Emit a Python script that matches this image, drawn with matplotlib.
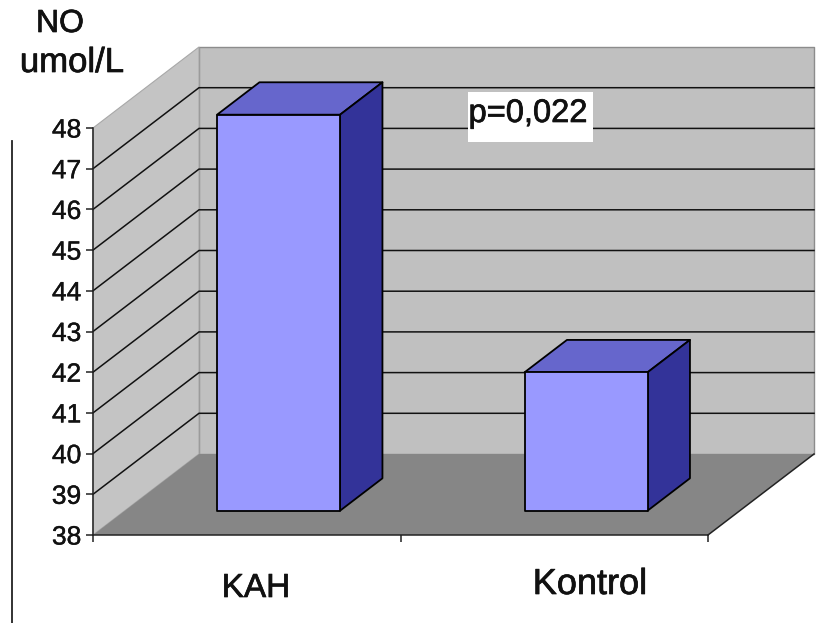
import matplotlib
matplotlib.use("Agg")
import matplotlib.pyplot as plt
import matplotlib.patheffects as pe
from matplotlib.patches import Polygon, Rectangle

categories = ["KAH", "Kontrol"]
values = [47.73, 41.4]
y_ticks = list(range(38, 49))
note = "p=0,022"
unit_label = "NO\numol/L"

W, H = 827, 623
plt.rcParams['font.family'] = ['Liberation Sans', 'DejaVu Sans']

fig = plt.figure(figsize=(W / 100, H / 100), dpi=100)
# front plane of the 3d box, in pixels of the reference
left, right, top, bottom = 93, 708, 128, 535
ax = fig.add_axes([left / W, 1 - bottom / H, (right - left) / W, (bottom - top) / H])
ax.set_xlim(0, 2)
ax.set_ylim(38, 48)
ax.patch.set_alpha(0)

# depth of the box expressed in data units
DX = 106 / ((right - left) / 2)
DY = 81 / ((bottom - top) / 10)

# the reference text is a bit heavier than the plain font
heavy = [pe.withStroke(linewidth=0.5, foreground='#111111')]


def project(x, v, d):
    # d = 0 is the front plane, d = 1 the back wall
    return x + d * DX, v + d * DY


def face(points, color, edge='black', lw=1.3, z=2):
    xy = [project(*p) for p in points]
    ax.add_patch(Polygon(xy, closed=True, facecolor=color, edgecolor=edge, linewidth=lw,
                         joinstyle='round', clip_on=False, zorder=z))


ymin, ymax = y_ticks[0], y_ticks[-1]

# walls and floor
face([(0, ymin, 1), (2, ymin, 1), (2, ymax, 1), (0, ymax, 1)], '#c0c0c0', '#8c8c8c', 1.0, 1)
face([(0, ymin, 0), (0, ymin, 1), (0, ymax, 1), (0, ymax, 0)], '#c4c4c4', '#a8a8a8', 0.8, 1)
face([(0, ymin, 0), (2, ymin, 0), (2, ymin, 1), (0, ymin, 1)], '#868686', 'none', 0, 1)

# floor edge on the right
fx, fy = zip(project(2, ymin, 0), project(2, ymin, 1))
ax.plot(fx, fy, color='#222222', lw=1.1, clip_on=False, zorder=1.5)

# gridlines, along the side wall and the back wall
for v in y_ticks[1:-1]:
    gx, gy = zip(project(0, v, 0), project(0, v, 1), project(2, v, 1))
    ax.plot(gx, gy, color='#111111', lw=1.1, clip_on=False, zorder=1.5, solid_joinstyle='miter')

# bars
bar_w = 0.4
d0, d1 = 0.3, 0.7
for i, val in enumerate(values):
    x0 = i + 0.5 - bar_w / 2
    x1 = i + 0.5 + bar_w / 2
    face([(x0, val, d0), (x1, val, d0), (x1, val, d1), (x0, val, d1)], '#6666cc')
    face([(x1, ymin, d0), (x1, ymin, d1), (x1, val, d1), (x1, val, d0)], '#333399')
    face([(x0, ymin, d0), (x1, ymin, d0), (x1, val, d0), (x0, val, d0)], '#9999ff', z=3)

# axes, ticks
for s in ['top', 'right']:
    ax.spines[s].set_visible(False)
for s in ['left', 'bottom']:
    ax.spines[s].set_linewidth(1.1)
    ax.spines[s].set_color('#222222')
    ax.spines[s].set_zorder(4)
ax.set_yticks(y_ticks)
ax.set_yticklabels([str(t) for t in y_ticks], fontsize=19, color='#111111')
ax.tick_params(axis='y', length=5, width=1.1, pad=3.5, color='#222222')
ax.set_xticks([0, 1, 2])
ax.set_xticklabels([])
ax.tick_params(axis='x', length=5, width=1.1, color='#222222')
for lab in ax.get_yticklabels():
    lab.set_path_effects([pe.withStroke(linewidth=0.3, foreground='#111111')])


def fig_text(px, py, s, **kw):
    return fig.text(px / W, 1 - py / H, s, ha='center', va='baseline', color='#111111',
                    path_effects=heavy, **kw)


fig_text(256, 597, categories[0], fontsize=24)
fig_text(590, 594, categories[1], fontsize=26)

no, unit = unit_label.split("\n")
fig_text(60, 32, no, fontsize=23)
fig_text(72, 72, unit, fontsize=25)

# white box behind the p value
fig.add_artist(Rectangle((468 / W, 1 - 142 / H), 125 / W, 50 / H, facecolor='white',
                         edgecolor='none', transform=fig.transFigure, zorder=5))
fig_text(528, 122, note, fontsize=23.5, zorder=6)

# stray vertical line at the left of the slide
fig.add_artist(plt.Line2D([12 / W, 12 / W], [0, 1 - 141 / H], color='#222222', lw=1.3))

fig.savefig("out.png", dpi=100)
